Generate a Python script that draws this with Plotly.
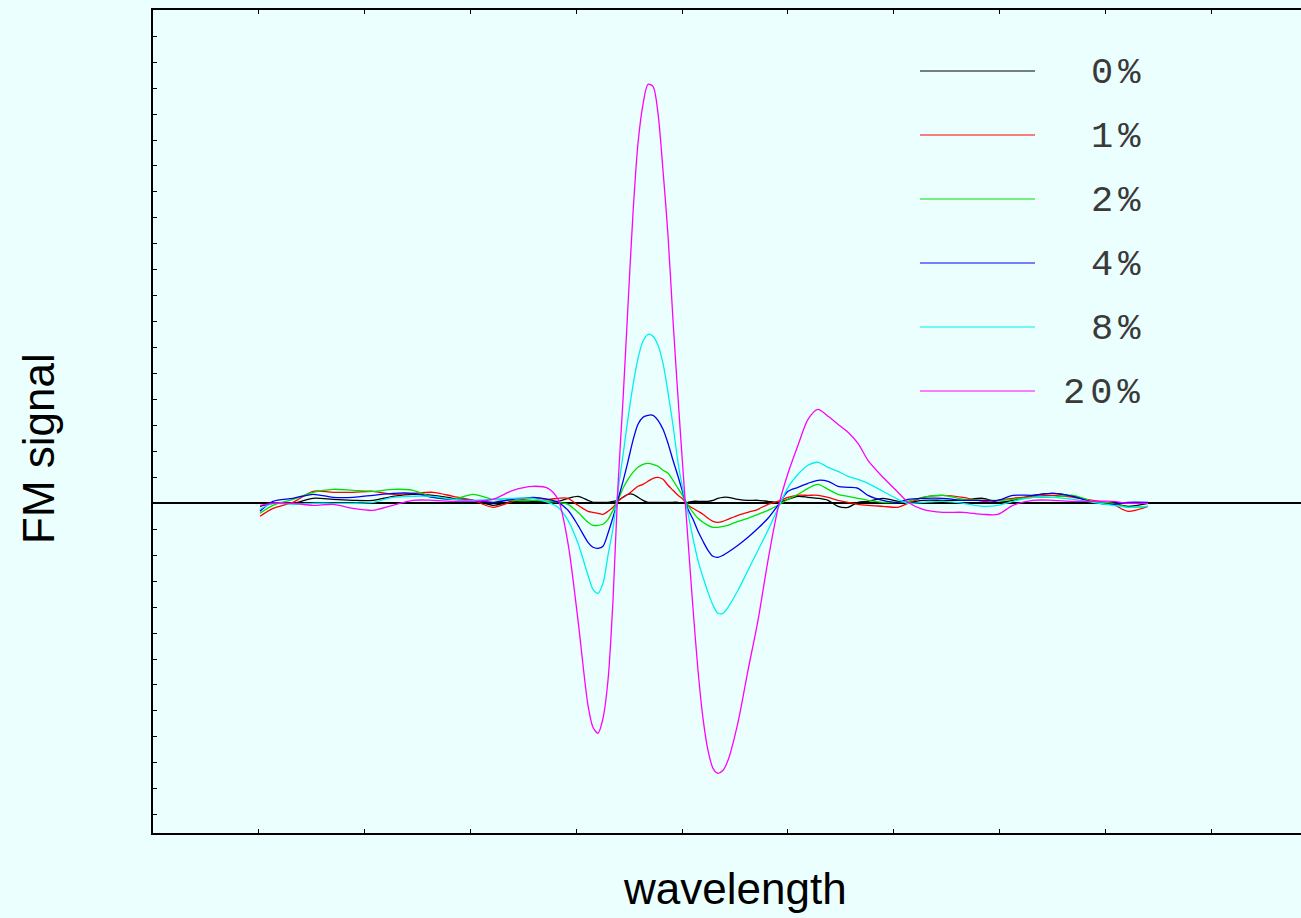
import plotly.graph_objects as go

# ---------------- data ----------------
wavelength = [10.7, 12, 14, 16, 18, 20, 22, 24, 26, 28, 30, 32, 34, 36, 38,
              39.5, 40.5, 41.5, 42.5, 43.5,
              44, 44.5, 45, 45.5, 46, 46.5, 47, 47.5, 48, 48.5, 49, 49.5, 50, 50.5,
              51, 51.5, 52, 52.5, 53, 53.5, 54, 54.5, 55, 55.5, 56, 56.5, 57, 57.5,
              58.5, 59.5, 60.5, 61.5, 62.5, 63.5, 64.5, 65.5, 66.5, 67.5, 68.5, 69.5, 70.5, 71.5,
              73, 74.5, 75.5, 77, 79, 81, 83, 84.5, 86, 88, 90, 92, 94, 96, 97.5, 99.5]

signal_0 = [-0.3, 0, 0, 0.5, 0.4, 0.3, 0.3, 0.7, 0.9, 0.8, 0.5, 0.3, -0.2, 0.2, 0.2,
            0.2, 0.2, 0.5, 0.7, 0.3,
            0.1, 0.1, 0.1, 0.1, 0.2, 0.3, 0.6, 0.9, 0.9, 0.6, 0.3, 0.1, 0.1, 0.1,
            0.1, 0.1, 0.1, 0.1, 0, 0.1, 0.2, 0.2, 0.2, 0.2, 0.3, 0.5, 0.6, 0.6,
            0.4, 0.3, 0.3, 0.2, 0.1, 0.4, 0.7, 0.6, 0.5, 0.3, -0.3, -0.4, 0.1, 0.2,
            0.5, 0.2, 0.1, 0.3, 0.3, 0.3, 0.5, 0.1, 0.3, 0.8, 1.0, 0.7, 0.2, 0, -0.3, 0]

signal_1 = [-1.3, -0.5, 0.1, 1.2, 1.1, 1.1, 1.2, 0.9, 1.0, 1.1, 0.7, 0.3, -0.4, 0.2, 0.5,
            0.4, 0.5, 0.5, -0.2, -0.8,
            -0.9, -1.0, -1.1, -0.8, -0.4, 0.2, 0.6, 0.9, 1.3, 1.7, 1.9, 2.2, 2.5, 2.6,
            2.4, 1.8, 1.3, 0.8, 0.4, -0.2, -0.5, -0.8, -1.1, -1.5, -1.8, -1.9, -1.8, -1.6,
            -1.2, -0.9, -0.6, -0.1, 0.2, 0.6, 0.8, 0.8, 0.8, 0.6, 0.3, 0.1, -0.1, -0.2,
            -0.3, -0.4, 0.0, 0.6, 0.8, 0.6, 0.2, 0.3, 0.5, 0.7, 0.8, 0.6, 0.3, -0.1, -0.8, -0.3]

signal_2 = [-1.0, -0.2, 0.4, 1.1, 1.4, 1.3, 1.2, 1.4, 1.3, 0.6, 0.4, 0.9, 0.4, 0.3, 0.3,
            0.2, 0.1, -0.1, -0.9, -1.9,
            -2.2, -2.2, -2.1, -1.6, -0.7, 0.3, 1.5, 2.4, 3.1, 3.6, 3.9, 4.0, 3.9, 3.7,
            3.3, 3.0, 2.3, 1.5, 0.7, -0.2, -0.9, -1.5, -1.9, -2.2, -2.4, -2.4, -2.3, -2.2,
            -1.8, -1.5, -1.1, -0.7, -0.2, 0.4, 0.9, 1.5, 1.9, 1.4, 0.9, 0.7, 0.5, 0.3,
            0.1, 0.1, 0.2, 0.6, 0.8, 0.4, 0.3, 0.3, 0.4, 0.6, 0.6, 0.8, 0.2, 0, -0.4, -0.3]

signal_4 = [-0.8, 0.2, 0.5, 0.9, 0.6, 0.6, 0.8, 1.0, 1.0, 0.6, 0.4, 0.3, 0.1, 0.4, 0.6,
            0.4, 0.1, -0.7, -2.2, -3.9,
            -4.4, -4.5, -4.3, -3.0, -1.4, 0.4, 2.2, 4.2, 6.3, 7.9, 8.6, 8.8, 8.8, 8.3,
            7.4, 6.0, 4.3, 2.7, 1.0, -0.6, -1.6, -2.8, -3.8, -4.7, -5.3, -5.4, -5.2, -4.9,
            -4.2, -3.4, -2.5, -1.5, -0.2, 1.2, 1.6, 2.0, 2.3, 2.2, 1.7, 1.6, 1.5, 0.8,
            0.3, 0.1, 0.4, 0.5, 0.5, 0.3, 0.3, 0.3, 0.8, 0.8, 1.0, 0.7, 0.1, -0.1, 0.1, 0.1]

signal_8 = [-0.6, 0, -0.1, 0, 0, 0, 0.1, 0.6, 0.7, 0.7, 0.4, 0.3, 0.4, 0.5, 0.5,
            0.1, -0.4, -1.7, -4.0, -7.2,
            -8.6, -9.0, -8.0, -5.2, -2.5, 1.3, 4.8, 8.5, 11.8, 14.5, 16.2, 16.9, 16.7, 15.8,
            14.0, 11.1, 7.8, 4.1, 1.3, -1.0, -3.5, -5.7, -7.4, -8.9, -10.2, -11.0, -11.0, -10.4,
            -8.7, -6.7, -4.7, -2.7, -0.5, 1.6, 2.9, 3.8, 4.1, 3.6, 3.2, 2.7, 2.4, 2.0,
            1.2, 0.4, 0.0, 0.1, 0.2, 0, -0.3, -0.2, 0.2, 0.6, 0.6, 0.4, 0.1, -0.2, -0.4, -0.3]

signal_20 = [-0.2, 0, 0, -0.2, -0.1, -0.5, -0.7, -0.2, 0.3, 0.3, 0.2, 0.2, 0.4, 1.3, 1.7,
             1.5, 0.4, -4.0, -11.7, -20.2,
             -22.4, -23.0, -21.5, -17.7, -9.7, 1.8, 10.3, 19.8, 29.0, 36.0, 39.9, 41.9, 41.7, 39.0,
             33.3, 26.8, 18.3, 10.6, 3.3, -3.7, -10.5, -16.7, -21.5, -24.7, -26.5, -27.0, -26.7, -25.7,
             -21.9, -16.7, -11.7, -5.7, -0.5, 3.0, 5.8, 8.4, 9.4, 8.7, 7.9, 7.1, 6.0, 4.3,
             2.6, 1.1, 0.1, -0.6, -0.9, -0.9, -1.1, -1.1, -0.2, 0.3, 0.3, 0.2, 0.2, 0.2, 0, 0]

series_labels = ["0%", "1%", "2%", "4%", "8%", "20%"]
series_values = [signal_0, signal_1, signal_2, signal_4, signal_8, signal_20]
series_colors = ["#000000", "#FF0000", "#00E000", "#0000F0", "#00F0F0", "#FF00FF"]

# ---------------- layout geometry ----------------
W, H = 1301, 918
ML, MT, MB, MR = 153, 10, 85, 0
PW = W - ML - MR
PH = H - MT - MB
BG = "#EBFFFF"


def px_x(px):
    return (px - ML) / PW


def px_y(py):
    return (H - MB - py) / PH


fig = go.Figure()
for lab, vals, col in zip(series_labels, series_values, series_colors):
    fig.add_trace(go.Scatter(
        x=wavelength, y=vals, mode="lines", name=lab,
        line=dict(color=col, width=1.3, shape="spline", smoothing=0.8),
        showlegend=False, hoverinfo="skip"))

# hand-made legend (long line samples, right-aligned monospace labels)
shapes = []
annotations = []
row_y = [71, 135, 199, 263, 327, 391]
for lab, col, ry in zip(series_labels, series_colors, row_y):
    shapes.append(dict(type="line", xref="paper", yref="paper",
                       x0=px_x(920), x1=px_x(1035), y0=px_y(ry), y1=px_y(ry),
                       line=dict(color=col, width=1.2)))
    annotations.append(dict(xref="paper", yref="paper", x=px_x(1147), y=px_y(ry + 2),
                            xanchor="right", yanchor="middle", showarrow=False,
                            text='<span style="letter-spacing:5px">' + lab + '</span>',
                            font=dict(family="Liberation Mono", size=37, color="#3a3a3a")))

annotations.append(dict(xref="paper", yref="paper", x=px_x(735), y=px_y(888),
                        xanchor="center", yanchor="middle", showarrow=False,
                        text="wavelength",
                        font=dict(family="Liberation Sans, Arial", size=44, color="#000000")))
annotations.append(dict(xref="paper", yref="paper", x=px_x(38), y=px_y(449),
                        xanchor="center", yanchor="middle", showarrow=False, textangle=-90,
                        text="FM signal",
                        font=dict(family="Liberation Sans, Arial", size=44, color="#000000")))

fig.update_layout(
    width=W, height=H,
    margin=dict(l=ML, r=MR, t=MT, b=MB, pad=0),
    paper_bgcolor=BG, plot_bgcolor=BG,
    showlegend=False,
    shapes=shapes, annotations=annotations,
    xaxis=dict(range=[0, 114.8], showgrid=False, zeroline=False,
               showline=True, linecolor="#000000", linewidth=2, mirror="ticks",
               ticks="inside", ticklen=4, tickwidth=1, tickcolor="#000000",
               tick0=0, dtick=10.58, showticklabels=False),
    yaxis=dict(range=[-32.97, 49.33], showgrid=False,
               zeroline=True, zerolinecolor="#000000", zerolinewidth=2,
               showline=True, linecolor="#000000", linewidth=2, mirror=False,
               ticks="inside", ticklen=4, tickwidth=1, tickcolor="#000000",
               tick0=0, dtick=2.595, showticklabels=False),
)

fig.write_html(
    "out.html",
    config={"displayModeBar": False},
    post_script="document.body.style.margin='0px';document.body.style.background='" + BG + "';",
)
